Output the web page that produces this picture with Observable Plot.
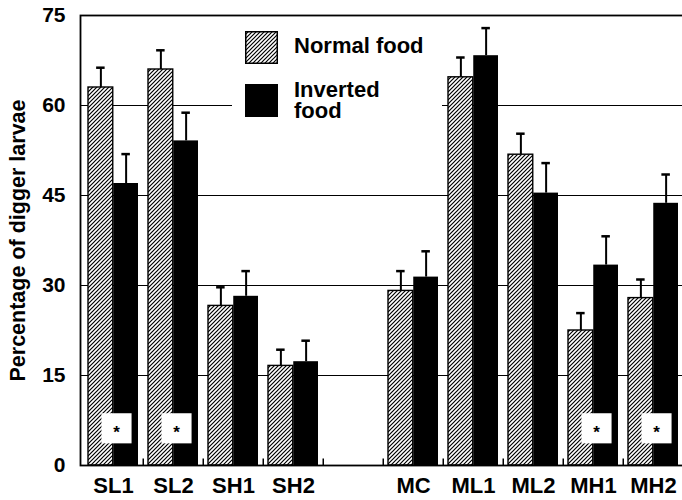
<!DOCTYPE html>
<html>
<head>
<meta charset="utf-8">
<script src="https://cdn.jsdelivr.net/npm/d3@7"></script>
<script src="https://cdn.jsdelivr.net/npm/@observablehq/plot@0.6"></script>
<style>
  body { margin: 0; background: #fff; overflow: hidden; }
  #wrap { position: relative; width: 682px; height: 500px; font-family: "Liberation Sans", Arial, sans-serif; }
  #wrap svg { display: block; }
  .lg-box { position: absolute; left: 232px; top: 22px; width: 210px; height: 103px; background: #fff; }
  .lg-sw { position: absolute; left: 245px; width: 33px; height: 33px; }
  .lg-txt { position: absolute; left: 294px; font-weight: bold; font-size: 22px; line-height: 21px; color: #000; white-space: nowrap; }
</style>
</head>
<body>
<div id="wrap">
</div>
<script>
// ---- data ----
const categories = ["SL1", "SL2", "SH1", "SH2", "", "MC", "ML1", "ML2", "MH1", "MH2"];
const groups = ["SL1", "SL2", "SH1", "SH2", "MC", "ML1", "ML2", "MH1", "MH2"];
const normalMean = [63.0, 66.0, 26.6, 16.6, 29.1, 64.7, 51.8, 22.5, 27.9];
const normalSE = [3.3, 3.2, 3.1, 2.7, 3.3, 3.3, 3.5, 2.9, 3.1];
const invertedMean = [47.0, 54.1, 28.2, 17.3, 31.4, 68.3, 45.4, 33.4, 43.7];
const invertedSE = [4.9, 4.7, 4.2, 3.5, 4.3, 4.6, 5.0, 4.8, 4.8];
const significant = ["SL1", "SL2", "MH1", "MH2"];
const yTicks = [0, 15, 30, 45, 60, 75];
const gridLines = [15, 30, 45, 60];
const seriesNames = ["Normal food", "Inverted\nfood"];
const yTitle = "Percentage of digger larvae";
const starLevel = 6.2;

const normal = groups.map((g, i) => ({group: g, value: normalMean[i], top: normalMean[i] + normalSE[i]}));
const inverted = groups.map((g, i) => ({group: g, value: invertedMean[i], top: invertedMean[i] + invertedSE[i]}));

const bw = 60.5; // band width in px (range 80..685 over 10 bands)
const barW = 25.25;
const edge = 5;
const half = bw / 2;
const capW = 9;
const capInset = (bw - capW) / 2;
const offN = -(half - edge - barW / 2);
const offI = (half - edge - barW / 2);

const chart = Plot.plot({
  width: 682,
  height: 500,
  marginTop: 15,
  marginBottom: 35,
  marginLeft: 80,
  marginRight: 0,
  style: {fontFamily: "'Liberation Sans', Arial, sans-serif", fontWeight: "bold", fontSize: "21px", background: "white", color: "black"},
  x: {type: "band", domain: categories, range: [80, 685], padding: 0},
  y: {domain: [0, 75]},
  marks: [
    Plot.ruleY(gridLines, {stroke: "black", strokeWidth: 1.1}),
    Plot.barY(normal, {x: "group", y: "value", fill: "url(#hatch)", stroke: "black", strokeWidth: 1.4,
      insetLeft: edge, insetRight: bw - edge - barW}),
    Plot.barY(inverted, {x: "group", y: "value", fill: "black",
      insetLeft: edge + barW, insetRight: bw - edge - 2 * barW}),
    Plot.ruleX(normal, {x: "group", y1: "value", y2: "top", dx: offN, stroke: "black", strokeWidth: 2}),
    Plot.ruleX(inverted, {x: "group", y1: "value", y2: "top", dx: offI, stroke: "black", strokeWidth: 2}),
    Plot.tickY(normal, {x: "group", y: "top", dx: offN, insetLeft: capInset, insetRight: capInset, stroke: "black", strokeWidth: 2.5}),
    Plot.tickY(inverted, {x: "group", y: "top", dx: offI, insetLeft: capInset, insetRight: capInset, stroke: "black", strokeWidth: 2.5}),
    Plot.ruleX(categories.slice(1), {x: d => d, y1: 0, y2: 1.1, dx: -half, stroke: "black", strokeWidth: 1.5}),
    Plot.dot(significant, {x: d => d, y: () => starLevel, symbol: "square", r: 17, fill: "white", stroke: "none", dx: 3}),
    Plot.text(significant, {x: d => d, y: () => starLevel, text: () => "*", dx: 3, dy: 4, fontSize: 17, fontWeight: "bold", fill: "black"}),
    Plot.frame({stroke: "black", strokeWidth: 1.8, insetRight: -6}),
    Plot.axisY(yTicks, {tickSize: 0, tickPadding: 15, fontSize: 21, fontWeight: "bold", label: null}),
    Plot.axisX({tickSize: 0, tickPadding: 12, fontSize: 22, fontWeight: "bold", label: null}),
    Plot.text([yTitle], {frameAnchor: "left", textAnchor: "middle", rotate: -90, dx: -62, fontSize: 21.5, fontWeight: "bold", fill: "black"})
  ]
});

// hatch pattern
const defs = d3.select(chart).insert("defs", ":first-child");
const pat = defs.append("pattern").attr("id", "hatch").attr("patternUnits", "userSpaceOnUse")
  .attr("width", 4).attr("height", 4);
pat.append("rect").attr("width", 4).attr("height", 4).attr("fill", "white");
pat.append("path").attr("d", "M-1,1 l2,-2 M0,4 l4,-4 M3,5 l2,-2").attr("stroke", "black").attr("stroke-width", 1.2);

const wrap = document.getElementById("wrap");
wrap.appendChild(chart);

// legend overlay
const box = document.createElement("div"); box.className = "lg-box"; wrap.appendChild(box);
const sw1 = document.createElement("div"); sw1.className = "lg-sw"; sw1.style.top = "31px";
sw1.innerHTML = '<svg width="33" height="33"><defs><pattern id="hatch2" patternUnits="userSpaceOnUse" width="4" height="4"><rect width="4" height="4" fill="white"/><path d="M-1,1 l2,-2 M0,4 l4,-4 M3,5 l2,-2" stroke="black" stroke-width="1.2"/></pattern></defs><rect x="0.75" y="0.75" width="31.5" height="31.5" fill="url(#hatch2)" stroke="black" stroke-width="1.5"/></svg>';
wrap.appendChild(sw1);
const sw2 = document.createElement("div"); sw2.className = "lg-sw"; sw2.style.top = "84px"; sw2.style.background = "black";
wrap.appendChild(sw2);
const t1 = document.createElement("div"); t1.className = "lg-txt"; t1.style.top = "35px"; t1.textContent = seriesNames[0];
wrap.appendChild(t1);
const t2 = document.createElement("div"); t2.className = "lg-txt"; t2.style.top = "79px"; t2.style.whiteSpace = "pre"; t2.textContent = seriesNames[1];
wrap.appendChild(t2);
</script>
</body>
</html>
